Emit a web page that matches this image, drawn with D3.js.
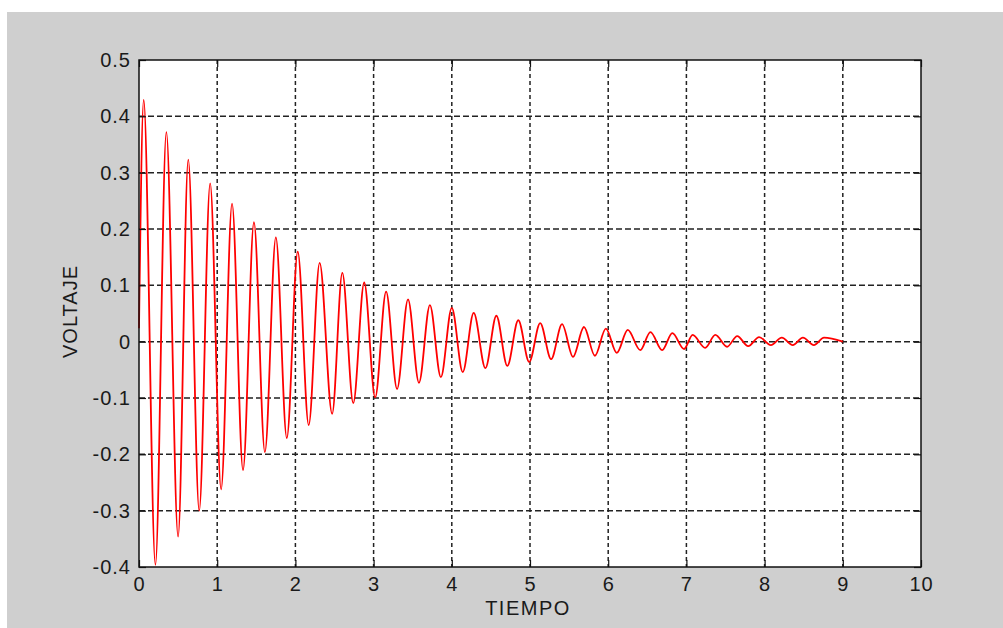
<!DOCTYPE html>
<html>
<head>
<meta charset="utf-8">
<script src="https://cdn.jsdelivr.net/npm/d3@7"></script>
<style>
  html, body { margin: 0; padding: 0; background: #ffffff; }
  svg { display: block; }
  text { font-family: "Liberation Sans", Arial, sans-serif; fill: #1a1a1a; }
</style>
</head>
<body>
<svg id="chart" width="1003" height="628"></svg>
<script>
// Damped oscillation: local maxima and minima of the measured voltage
const peakTime = [0.06, 0.35, 0.63, 0.91, 1.19, 1.47, 1.75, 2.03, 2.31, 2.60, 2.88, 3.16,
  3.44, 3.72, 4.00, 4.28, 4.57, 4.85, 5.13, 5.41, 5.69, 5.97, 6.25, 6.54, 6.82, 7.08,
  7.37, 7.65, 7.93, 8.22, 8.49, 8.76];
const peakVolt = [0.429, 0.372, 0.323, 0.281, 0.245, 0.212, 0.185, 0.160, 0.140, 0.122,
  0.105, 0.089, 0.075, 0.065, 0.060, 0.051, 0.046, 0.038, 0.033, 0.031, 0.026, 0.023,
  0.021, 0.017, 0.015, 0.012, 0.012, 0.010, 0.008, 0.007, 0.007, 0.007];
const troughTime = [0.21, 0.50, 0.77, 1.05, 1.33, 1.61, 1.89, 2.17, 2.47, 2.74, 3.02,
  3.30, 3.58, 3.86, 4.14, 4.43, 4.71, 4.99, 5.27, 5.55, 5.83, 6.11, 6.41, 6.69, 6.97,
  7.24, 7.52, 7.79, 8.08, 8.36, 8.63];
const troughVolt = [-0.396, -0.346, -0.300, -0.262, -0.228, -0.196, -0.171, -0.148,
  -0.128, -0.109, -0.099, -0.084, -0.073, -0.063, -0.054, -0.047, -0.043, -0.036,
  -0.031, -0.027, -0.025, -0.020, -0.015, -0.015, -0.013, -0.011, -0.009, -0.008,
  -0.006, -0.006, -0.006];
const startPoint = [0.0, 0.024];
const endPoint = [9.0, 0.0];

const xTicks = [0, 1, 2, 3, 4, 5, 6, 7, 8, 9, 10];
const yTicks = [-0.4, -0.3, -0.2, -0.1, 0, 0.1, 0.2, 0.3, 0.4, 0.5];
const xLabel = "TIEMPO";
const yLabel = "VOLTAJE";

// Assemble the signal as an ordered list of (t, v)
const signal = [startPoint];
peakTime.forEach((t, i) => signal.push([t, peakVolt[i]]));
troughTime.forEach((t, i) => signal.push([t, troughVolt[i]]));
signal.push(endPoint);
signal.sort((a, b) => a[0] - b[0]);

const svg = d3.select("#chart");
const W = 1003, H = 628;

// Figure background
svg.append("rect").attr("x", 7).attr("y", 12).attr("width", W - 7).attr("height", H - 12)
  .attr("fill", "#cfcfcf");

const axL = 139, axR = 921, axT = 60, axB = 567;

const x = d3.scaleLinear().domain([0, 10]).range([axL, axR]);
const y = d3.scaleLinear().domain([-0.4, 0.5]).range([axB, axT]);

// Axes area
svg.append("rect").attr("x", axL).attr("y", axT)
  .attr("width", axR - axL).attr("height", axB - axT).attr("fill", "#ffffff");

// Grid
const grid = svg.append("g");
grid.selectAll("line.vx").data(xTicks.slice(1, -1)).enter().append("line")
  .attr("x1", d => x(d)).attr("x2", d => x(d)).attr("y1", axT).attr("y2", axB)
  .attr("stroke", "#222").attr("stroke-width", 1.5).attr("stroke-dasharray", "4,3");
grid.selectAll("line.hy").data(yTicks.slice(1, -1)).enter().append("line")
  .attr("y1", d => y(d)).attr("y2", d => y(d)).attr("x1", axL).attr("x2", axR)
  .attr("stroke", "#222").attr("stroke-width", 1.5).attr("stroke-dasharray", "6,3");

// Signal trace
const line = d3.line().x(d => x(d[0])).y(d => y(d[1])).curve(d3.curveMonotoneX);
svg.append("path").datum(signal).attr("d", line)
  .attr("fill", "none").attr("stroke", "#ff0000").attr("stroke-width", 1.8)
  .attr("stroke-linejoin", "round");

// Axes with inward ticks on all four sides
const tickLen = 7;
const fmt = d => (Math.abs(d) < 1e-9 ? "0" : (+d.toFixed(1)).toString());
svg.append("g").attr("transform", `translate(0,${axB})`)
  .call(d3.axisBottom(x).tickValues(xTicks).tickSize(-tickLen).tickPadding(10).tickFormat(fmt))
  .call(g => g.select(".domain").remove());
svg.append("g").attr("transform", `translate(0,${axT})`)
  .call(d3.axisTop(x).tickValues(xTicks).tickSize(-tickLen).tickFormat(""))
  .call(g => g.select(".domain").remove());
svg.append("g").attr("transform", `translate(${axL},0)`)
  .call(d3.axisLeft(y).tickValues(yTicks).tickSize(-tickLen).tickPadding(8).tickFormat(fmt))
  .call(g => g.select(".domain").remove());
svg.append("g").attr("transform", `translate(${axR},0)`)
  .call(d3.axisRight(y).tickValues(yTicks).tickSize(-tickLen).tickFormat(""))
  .call(g => g.select(".domain").remove());

svg.selectAll(".tick line").attr("stroke", "#111").attr("stroke-width", 1.2);
svg.selectAll(".tick text").attr("font-size", 20).attr("fill", "#1a1a1a")
  .attr("letter-spacing", 1)
  .attr("font-family", "'Liberation Sans', Arial, sans-serif");

// Box
svg.append("rect").attr("x", axL).attr("y", axT)
  .attr("width", axR - axL).attr("height", axB - axT)
  .attr("fill", "none").attr("stroke", "#111").attr("stroke-width", 1.5);

// Axis labels
svg.append("text").attr("x", (axL + axR) / 2 - 2).attr("y", 615)
  .attr("text-anchor", "middle").attr("font-size", 20).attr("letter-spacing", 1.5)
  .text(xLabel);
svg.append("text")
  .attr("transform", `translate(77,${(axT + axB) / 2 - 2}) rotate(-90)`)
  .attr("text-anchor", "middle").attr("font-size", 20).attr("letter-spacing", 1)
  .text(yLabel);
</script>
</body>
</html>
